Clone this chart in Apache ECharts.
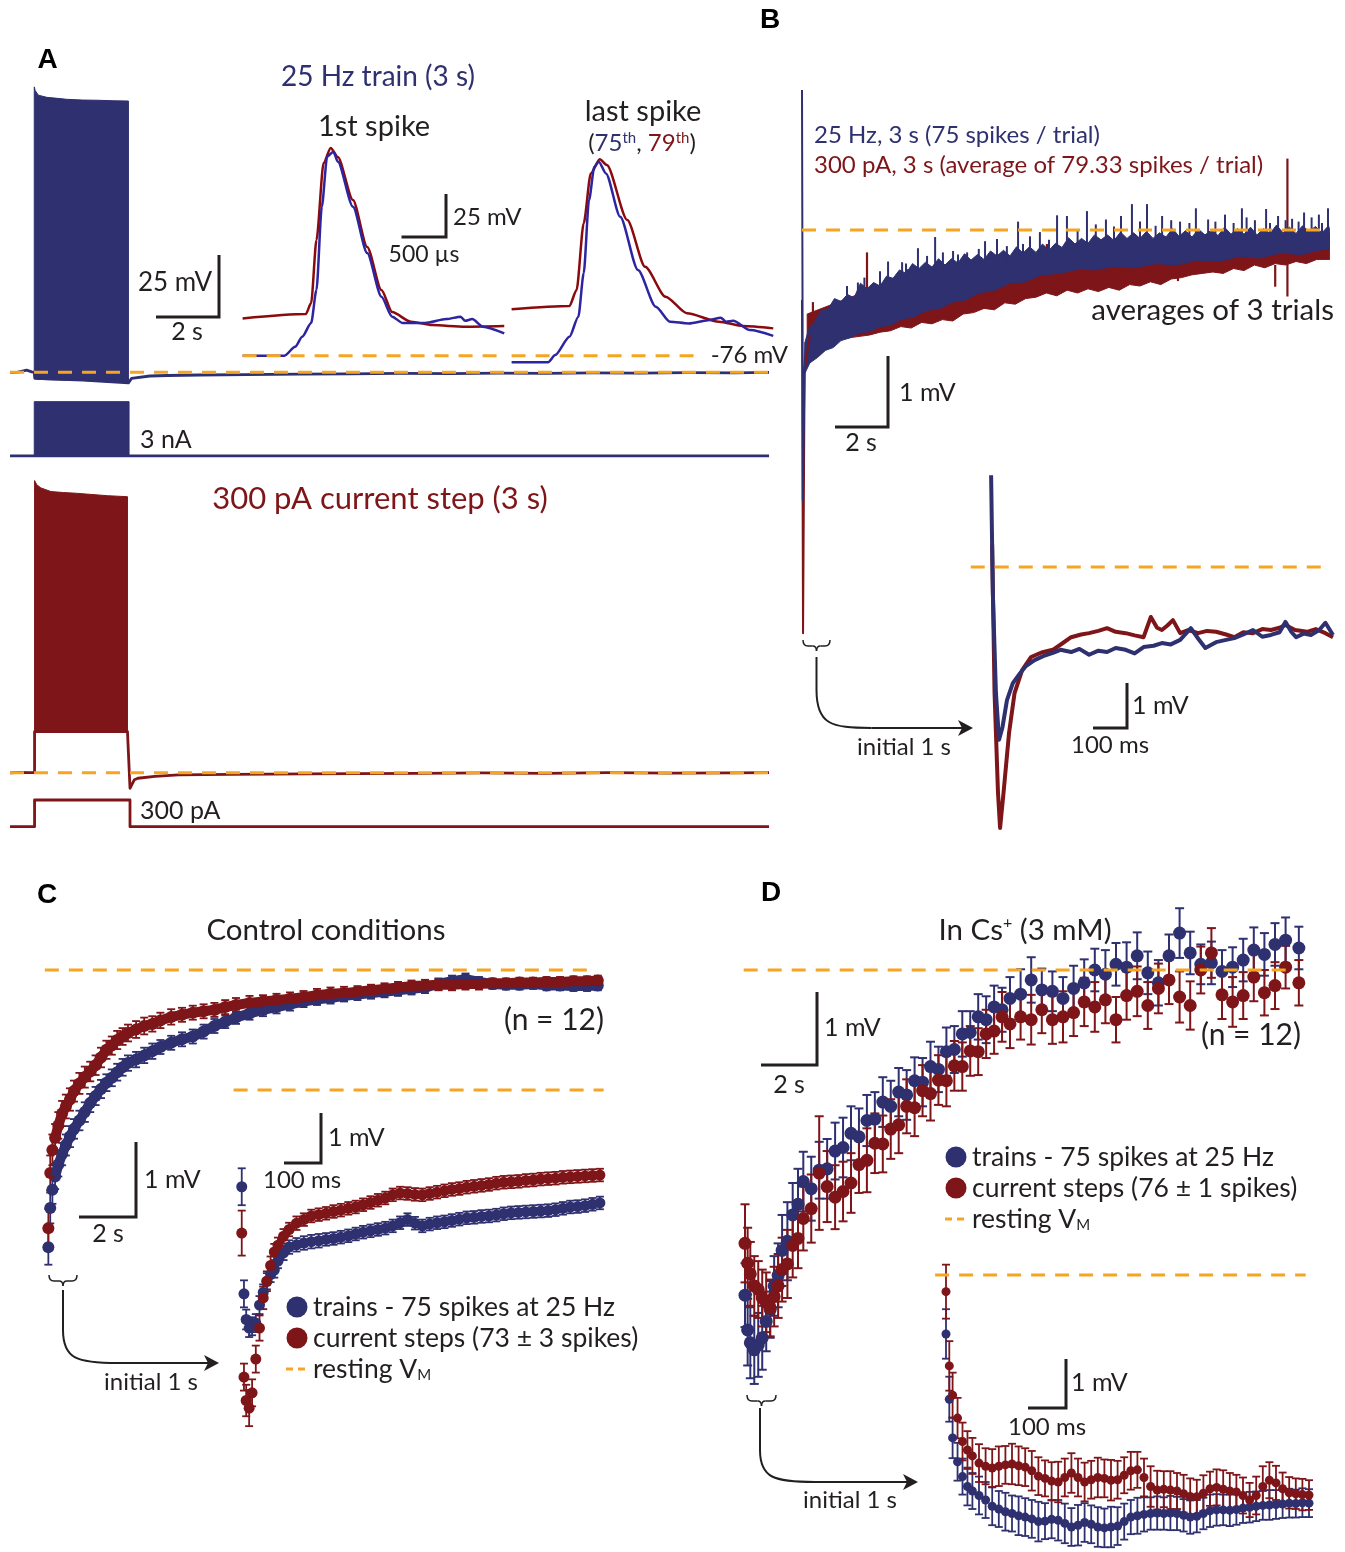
<!DOCTYPE html>
<html>
<head>
<meta charset="utf-8">
<script src="https://cdn.jsdelivr.net/npm/echarts/dist/echarts.min.js"></script>
<style>
  html, body { margin: 0; background: #fff; }
  #main { width: 1345px; height: 1552px; }
</style>
</head>
<body>
<div id="main"></div>
<script>
// ---------- Panel A : whole-cell traces (s, mV) ----------
const aBlueVmT = [0, 0.25, 0.53, 0.69, 0.77, 0.79, 2.32, 3.76, 3.81, 3.86, 4.44, 5.0, 6.03, 7.5, 9.21, 10.8, 12.38, 14, 15.5, 17, 18.5, 20, 21.5, 23, 24.1];
const aBlueVm = [-76.1, -75.9, -75.1, -75.8, -76.0, -78.5, -79.2, -80.3, -80.5, -78.5, -77.5, -77.3, -77.1, -76.9, -76.7, -76.6, -76.4, -76.5, -76.3, -76.4, -76.2, -76.3, -76.1, -76.2, -76.0];
const aBlueTrainT = [0.77, 0.8, 0.9, 1.17, 1.5, 1.8, 2.3, 2.8, 3.3, 3.76];
const aBlueTrainHi = [41.0, 39.5, 37.6, 36.7, 36.3, 35.9, 35.6, 35.5, 35.3, 35.2];
const aBlueTrainLo = [-78.5, -78.6, -78.8, -79.0, -79.1, -79.2, -79.3, -79.7, -80.0, -80.3];
const aBlueIT = [0, 3, 6, 9, 12, 15, 18, 21, 24.1];
const aBlueI = [0, 0, 0, 0, 0, 0, 0, 0, 0];
const aBlueIPulseT = [0.77, 3.78];
const aBlueIPulseHi = [3, 3];
const aBlueIPulseLo = [0, 0];

const aRedVmT = [0, 0.3, 0.6, 0.78, 0.78, 3.73, 3.81, 3.95, 4.06, 4.6, 5.35, 7.0, 9.4, 11, 13, 15, 17, 19, 21, 23, 24.1];
const aRedVm = [-76.1, -75.9, -76.0, -76.0, -59.2, -59.2, -82.4, -78.9, -78.3, -77.5, -76.9, -76.7, -76.5, -76.4, -76.3, -76.1, -76.3, -76.0, -76.2, -76.1, -76.0];
const aRedTrainT = [0.78, 0.85, 0.98, 1.3, 1.7, 2.11, 2.6, 3.1, 3.73];
const aRedTrainHi = [43.7, 42.0, 40.7, 39.2, 38.8, 38.5, 38.0, 37.5, 37.1];
const aRedTrainLo = [-59.2, -59.2, -59.3, -59.2, -59.1, -59.2, -59.3, -59.2, -59.2];
const aRedIT = [0, 0.78, 0.78, 3.81, 3.81, 24.1];
const aRedI = [0, 0, 300, 300, 0, 0];

// spike insets (ms, mV)
const a1RedT = [0, 0.71, 0.77, 0.83, 0.91, 0.99, 1.07, 1.24, 1.40, 1.56, 1.68, 1.89, 2.13, 2.50, 2.94];
const a1Red = [-54.3, -51.8, -45.4, -8.7, 36.0, 44.8, 39.5, 14.5, -12.8, -37.8, -50.6, -56.2, -58.2, -59.1, -58.7];
const a1BlueT = [0, 0.47, 0.59, 0.67, 0.77, 0.83, 0.89, 0.95, 1.02, 1.07, 1.24, 1.40, 1.56, 1.68, 1.80, 2.05, 2.29, 2.45, 2.50, 2.58, 2.70, 2.94];
const a1Blue = [-76, -76, -70.8, -65.0, -57.0, -37.8, 10.6, 39.7, 42.6, 36.8, 10.6, -16.3, -41.7, -53.3, -57.0, -57.0, -54.7, -53.3, -55.7, -54.7, -59.1, -63.0];
const a2RedT = [0, 0.65, 0.73, 0.81, 0.89, 0.99, 1.07, 1.30, 1.50, 1.73, 1.97, 2.33, 2.60, 2.94];
const a2Red = [-49.0, -47.1, -37.8, 1.0, 30.0, 38.2, 34.9, 2.9, -24.3, -41.7, -51.3, -56.2, -58.7, -60.1];
const a2BlueT = [0, 0.41, 0.49, 0.65, 0.75, 0.81, 0.87, 0.93, 0.98, 1.06, 1.22, 1.42, 1.62, 1.78, 1.99, 2.23, 2.35, 2.41, 2.49, 2.68, 2.94];
const a2Blue = [-79.8, -79.8, -75.6, -65.0, -53.3, -28.1, 14.5, 33.9, 36.8, 30.0, 4.8, -26.2, -47.5, -56.2, -57.2, -55.2, -53.9, -56.2, -55.7, -61.1, -64.5];
const restVm = -76;

// ---------- Panel B : averaged potential relative to rest (s, mV) ----------
const bSpikeBlueT = [0, 0.02, 0.03, 0.1, 0.13];
const bSpikeBlue = [2.0, -1.0, -3.86, -2.0, -1.6];
const bSpikeRedT = [0, 0.04, 0.1, 0.3];
const bSpikeRed = [-1.0, -5.76, -2.0, -1.5];
const bBlueTopT = [0.12, 0.25, 0.5, 0.75, 1.0, 1.25, 1.5, 1.75, 2.0, 2.25, 2.5, 2.75, 3.0, 3.25, 3.5, 3.75,
    4.0, 4.25, 4.5, 4.75, 5.0, 5.25, 5.5, 5.75, 6.0, 6.25, 6.5, 6.75, 7.0, 7.25, 7.5, 7.75,
    8.0, 8.25, 8.5, 8.75, 9.0, 9.25, 9.5, 9.75, 10.0, 10.25, 10.5, 10.75, 11.0, 11.25, 11.5, 11.75,
    12.0, 12.25, 12.5, 12.75, 13.0, 13.25, 13.5, 13.75, 14.0, 14.25, 14.5, 14.75, 15.0, 15.25, 15.5, 15.75,
    16.0, 16.25, 16.5, 16.75, 17.0, 17.25, 17.5, 17.75, 18.0, 18.25, 18.5, 18.75, 19.0, 19.25, 19.5, 19.75,
    20.0, 20.25, 20.3];
const bBlueTop = [-1.6, -1.42, -1.3, -1.14, -1.13, -0.98, -1.02, -0.92, -0.97, -0.76, -0.84, -0.75, -0.8, -0.66, -0.69, -0.57,
    -0.62, -0.48, -0.55, -0.46, -0.53, -0.41, -0.5, -0.41, -0.47, -0.34, -0.43, -0.35, -0.42, -0.3, -0.37, -0.29,
    -0.37, -0.24, -0.33, -0.24, -0.32, -0.2, -0.29, -0.19, -0.25, -0.11, -0.2, -0.12, -0.19, -0.07, -0.14, -0.07,
    -0.15, -0.03, -0.12, -0.04, -0.12, -0.02, -0.12, -0.04, -0.1, 0.02, -0.09, -0.01, -0.1, 0.01, -0.07, 0.0,
    -0.08, 0.04, -0.06, 0.02, -0.06, 0.04, -0.07, 0.02, -0.05, 0.07, -0.04, 0.04, -0.05, 0.06, -0.02, 0.05,
    -0.04, 0.06, 0.0];
const bBlueBotT = [0.12, 0.3, 0.6, 0.9, 1.2, 1.5, 1.85, 2.2, 2.6, 3.0, 3.4, 3.8, 4.3, 4.8, 5.3, 5.8, 6.3, 6.8, 7.4, 8.0, 8.6, 9.2, 9.9, 10.6, 11.3, 12.0, 12.8, 13.6, 14.4, 15.2, 16.0, 16.8, 17.6, 18.4, 19.2, 20.0, 20.3];
const bBlueBot = [-2.04, -1.9, -1.82, -1.72, -1.68, -1.58, -1.54, -1.47, -1.45, -1.38, -1.36, -1.28, -1.24, -1.15, -1.12, -1.03, -1.0, -0.9, -0.86, -0.76, -0.74, -0.64, -0.62, -0.56, -0.57, -0.52, -0.54, -0.48, -0.5, -0.43, -0.45, -0.38, -0.4, -0.33, -0.35, -0.28, -0.28];
const bBlueSpikeT = [1.73, 2.15, 3.0, 3.31, 3.85, 4.46, 4.81, 5.12, 5.42, 5.81, 6.35, 7.04, 7.5, 7.88, 8.31, 8.77, 9.15, 9.81, 10.19, 10.96, 11.69, 12.27, 12.69, 13.27, 13.85, 14.54, 15.15, 15.62, 16.27, 16.92, 17.42, 17.85, 18.31, 18.85, 19.31, 19.88, 20.23];
const bBlueSpikeTip = [-0.8, -0.75, -0.59, -0.45, -0.46, -0.26, -0.37, -0.1, -0.32, -0.3, -0.32, -0.16, -0.13, -0.23, 0.12, -0.09, -0.03, 0.21, 0.2, 0.27, 0.15, 0.2, 0.37, 0.37, 0.2, 0.12, 0.31, 0.15, 0.22, 0.31, 0.14, 0.3, 0.2, 0.16, 0.25, 0.22, 0.31];
const bBlueSpikeBase = [-1.1, -1.0, -0.9, -0.8, -0.75, -0.7, -0.65, -0.62, -0.6, -0.58, -0.55, -0.5, -0.48, -0.46, -0.44, -0.42, -0.4, -0.36, -0.34, -0.3, -0.28, -0.25, -0.24, -0.22, -0.2, -0.2, -0.18, -0.18, -0.16, -0.15, -0.15, -0.14, -0.13, -0.12, -0.12, -0.1, -0.1];
const bBlueSpike2T = [2.4, 4.0, 6.0, 6.8, 8.5, 9.5, 10.6, 11.3, 12.0, 13.0, 13.6, 14.2, 14.9, 15.9, 16.6, 17.1, 18.0, 18.6, 19.1, 19.6, 20.0];
const bBlueSpike2Tip = [-0.68, -0.48, -0.35, -0.27, -0.2, -0.14, 0.0, 0.08, 0.05, 0.12, 0.06, 0.14, 0.1, 0.12, 0.1, 0.18, 0.1, 0.14, 0.12, 0.18, 0.1];
const bBlueSpike2Base = [-0.9, -0.7, -0.55, -0.5, -0.42, -0.38, -0.3, -0.25, -0.22, -0.2, -0.2, -0.18, -0.18, -0.16, -0.15, -0.15, -0.14, -0.13, -0.12, -0.12, -0.1];
const bRedTopT = [0.2, 3, 6, 10, 14, 18, 20.3];
const bRedTop = [-1.2, -0.8, -0.55, -0.35, -0.2, -0.1, -0.05];
const bRedBotT = [0.2, 1.0, 2.0, 2.6, 3.0, 3.4, 3.8, 4.2, 4.6, 5.0, 5.4, 5.8, 6.2, 6.6, 7.0, 7.4, 7.8, 8.2, 8.6, 9.0, 9.4, 9.8, 10.2, 10.6, 11.0, 11.4, 11.8, 12.2, 12.6, 13.0, 13.4, 13.8, 14.2, 14.6, 15.0, 15.4, 15.8, 16.2, 16.6, 17.0, 17.4, 17.8, 18.2, 18.6, 19.0, 19.4, 19.8, 20.3];
const bRedBot = [-1.56, -1.58, -1.53, -1.5, -1.46, -1.44, -1.38, -1.4, -1.32, -1.34, -1.28, -1.3, -1.2, -1.18, -1.12, -1.14, -1.04, -1.06, -0.98, -0.96, -0.9, -0.94, -0.86, -0.9, -0.84, -0.88, -0.82, -0.86, -0.78, -0.8, -0.74, -0.78, -0.7, -0.68, -0.64, -0.62, -0.6, -0.62, -0.55, -0.58, -0.5, -0.54, -0.48, -0.5, -0.45, -0.48, -0.42, -0.42];
const bRedSpikeT = [0.42, 2.5, 4.04, 6.27, 9.42, 14.46, 18.2, 18.67];
const bRedSpikeTip = [-1.03, -0.32, -0.56, -0.35, -0.2, -0.73, -0.81, 1.02];
const bRedSpikeBase = [-1.4, -0.9, -0.8, -0.6, -0.45, -0.6, -0.5, -0.95];
const bInBlueT = [0.009, 0.014, 0.023, 0.032, 0.042, 0.055, 0.072, 0.093, 0.11, 0.135, 0.16, 0.188, 0.21, 0.241, 0.265, 0.293, 0.32, 0.345, 0.37, 0.399, 0.425, 0.451, 0.48, 0.504, 0.53, 0.557, 0.588, 0.61, 0.63, 0.661, 0.69, 0.714, 0.74, 0.768, 0.795, 0.82, 0.845, 0.862, 0.88, 0.893, 0.915, 0.936, 0.96, 0.978, 1.0];
const bInBlue = [2.04, -0.58, -2.8, -3.84, -3.56, -2.96, -2.58, -2.36, -2.2, -2.07, -1.98, -1.91, -1.84, -1.89, -1.82, -1.95, -1.86, -1.89, -1.8, -1.84, -1.92, -1.78, -1.75, -1.69, -1.72, -1.62, -1.36, -1.6, -1.8, -1.67, -1.62, -1.58, -1.5, -1.4, -1.55, -1.51, -1.45, -1.22, -1.45, -1.56, -1.48, -1.51, -1.4, -1.24, -1.51];
const bInRedT = [0.012, 0.019, 0.029, 0.035, 0.045, 0.061, 0.077, 0.099, 0.125, 0.155, 0.188, 0.215, 0.241, 0.27, 0.293, 0.32, 0.345, 0.37, 0.399, 0.425, 0.451, 0.472, 0.49, 0.504, 0.52, 0.536, 0.557, 0.58, 0.609, 0.635, 0.661, 0.69, 0.714, 0.74, 0.768, 0.795, 0.82, 0.845, 0.862, 0.89, 0.925, 0.95, 0.978, 1.0];
const bInRed = [0.5, -2.8, -5.02, -5.8, -5.02, -3.69, -2.8, -2.29, -2.0, -1.9, -1.84, -1.7, -1.56, -1.5, -1.47, -1.42, -1.36, -1.44, -1.47, -1.52, -1.56, -1.11, -1.35, -1.4, -1.3, -1.18, -1.47, -1.4, -1.47, -1.42, -1.44, -1.5, -1.56, -1.45, -1.47, -1.38, -1.4, -1.35, -1.29, -1.4, -1.44, -1.38, -1.47, -1.56];

// ---------- Panel C : control, mean +/- SEM (s, mV from rest) ----------
const cMainT = [0.05, 0.12, 0.2, 0.3, 0.42, 0.56, 0.7, 0.85, 1.0, 1.2, 1.4, 1.6, 1.8, 2.0, 2.2, 2.4, 2.6, 2.8, 3.0, 3.3, 3.6, 3.9, 4.2, 4.6, 5.0, 5.4, 5.8, 6.2, 6.6, 7.0, 7.5, 8.0, 8.5, 9.0, 9.5, 10.0, 10.5, 11.0, 11.5, 12.0, 12.5, 13.0, 13.5, 14.0, 14.5, 15.0, 15.5, 16.0, 16.5, 17.0, 17.5, 18.0, 18.5, 19.0, 19.5, 20.0, 20.4];
const cMainBlue = [-3.96, -3.4, -3.14, -2.95, -2.78, -2.63, -2.5, -2.38, -2.27, -2.15, -2.03, -1.9, -1.8, -1.7, -1.61, -1.54, -1.46, -1.39, -1.33, -1.28, -1.22, -1.16, -1.1, -1.04, -0.99, -0.95, -0.88, -0.8, -0.74, -0.68, -0.62, -0.57, -0.53, -0.49, -0.45, -0.42, -0.4, -0.37, -0.35, -0.33, -0.31, -0.29, -0.27, -0.25, -0.2, -0.16, -0.13, -0.17, -0.2, -0.21, -0.21, -0.2, -0.22, -0.22, -0.23, -0.23, -0.22];
const cMainBlueErr = [0.25, 0.22, 0.2, 0.18, 0.17, 0.16, 0.15, 0.15, 0.14, 0.14, 0.14, 0.13, 0.13, 0.13, 0.12, 0.12, 0.12, 0.12, 0.11, 0.11, 0.11, 0.11, 0.1, 0.1, 0.1, 0.1, 0.1, 0.1, 0.09, 0.09, 0.09, 0.09, 0.09, 0.09, 0.08, 0.08, 0.08, 0.08, 0.08, 0.08, 0.08, 0.08, 0.08, 0.08, 0.08, 0.08, 0.08, 0.07, 0.07, 0.07, 0.07, 0.07, 0.07, 0.07, 0.07, 0.07, 0.07];
const cMainRed = [-3.69, -2.9, -2.57, -2.4, -2.22, -2.05, -1.95, -1.85, -1.73, -1.62, -1.53, -1.45, -1.36, -1.25, -1.14, -1.08, -1.0, -0.95, -0.9, -0.85, -0.8, -0.77, -0.72, -0.67, -0.64, -0.61, -0.59, -0.57, -0.53, -0.5, -0.47, -0.45, -0.43, -0.41, -0.39, -0.36, -0.34, -0.33, -0.31, -0.29, -0.27, -0.25, -0.23, -0.22, -0.21, -0.21, -0.2, -0.2, -0.19, -0.19, -0.18, -0.18, -0.17, -0.17, -0.16, -0.16, -0.15];
const cMainRedErr = [0.28, 0.25, 0.22, 0.2, 0.19, 0.18, 0.17, 0.16, 0.15, 0.15, 0.15, 0.14, 0.14, 0.14, 0.13, 0.13, 0.13, 0.12, 0.12, 0.12, 0.12, 0.11, 0.11, 0.11, 0.1, 0.1, 0.1, 0.1, 0.1, 0.1, 0.1, 0.09, 0.09, 0.09, 0.09, 0.09, 0.09, 0.09, 0.08, 0.08, 0.08, 0.08, 0.08, 0.08, 0.08, 0.08, 0.08, 0.08, 0.07, 0.07, 0.07, 0.07, 0.07, 0.07, 0.07, 0.07, 0.07];
const cInT = [0.002, 0.008, 0.014, 0.022, 0.03, 0.04, 0.05, 0.06, 0.07, 0.08, 0.09, 0.1, 0.115, 0.13, 0.15, 0.17, 0.19, 0.21, 0.23, 0.25, 0.27, 0.29, 0.31, 0.33, 0.35, 0.37, 0.39, 0.41, 0.43, 0.45, 0.47, 0.49, 0.51, 0.53, 0.55, 0.57, 0.59, 0.61, 0.63, 0.65, 0.67, 0.69, 0.71, 0.73, 0.75, 0.77, 0.79, 0.81, 0.83, 0.85, 0.87, 0.89, 0.91, 0.93, 0.95, 0.97];
const cInBlue = [-2.15, -4.53, -5.1, -5.29, -5.25, -5.18, -4.78, -4.5, -4.25, -4.1, -4.0, -3.8, -3.62, -3.49, -3.44, -3.4, -3.37, -3.35, -3.32, -3.3, -3.27, -3.24, -3.2, -3.16, -3.13, -3.1, -3.07, -3.02, -2.95, -2.88, -2.96, -3.02, -2.98, -2.95, -2.93, -2.9, -2.87, -2.84, -2.83, -2.81, -2.8, -2.78, -2.75, -2.73, -2.72, -2.71, -2.7, -2.69, -2.68, -2.66, -2.63, -2.6, -2.59, -2.57, -2.54, -2.51];
const cInBlueErr = [0.41, 0.3, 0.22, 0.2, 0.2, 0.2, 0.2, 0.18, 0.18, 0.17, 0.17, 0.16, 0.16, 0.15, 0.15, 0.15, 0.15, 0.15, 0.14, 0.14, 0.14, 0.14, 0.14, 0.14, 0.14, 0.14, 0.14, 0.14, 0.14, 0.14, 0.14, 0.14, 0.14, 0.14, 0.14, 0.14, 0.14, 0.14, 0.14, 0.14, 0.14, 0.14, 0.14, 0.14, 0.14, 0.14, 0.14, 0.14, 0.14, 0.14, 0.14, 0.14, 0.14, 0.14, 0.14, 0.14];
const cInRed = [-3.18, -6.38, -6.9, -7.07, -6.73, -5.98, -5.29, -4.62, -4.25, -3.9, -3.6, -3.45, -3.25, -3.1, -2.96, -2.88, -2.8, -2.77, -2.74, -2.7, -2.67, -2.63, -2.6, -2.55, -2.5, -2.45, -2.4, -2.33, -2.29, -2.3, -2.32, -2.33, -2.3, -2.27, -2.24, -2.21, -2.19, -2.16, -2.14, -2.12, -2.1, -2.07, -2.05, -2.04, -2.03, -2.01, -2.0, -1.98, -1.97, -1.96, -1.94, -1.93, -1.92, -1.91, -1.9, -1.89];
const cInRedErr = [0.5, 0.3, 0.35, 0.4, 0.3, 0.3, 0.28, 0.25, 0.22, 0.2, 0.18, 0.17, 0.16, 0.15, 0.15, 0.14, 0.14, 0.14, 0.14, 0.14, 0.14, 0.14, 0.14, 0.14, 0.14, 0.14, 0.14, 0.14, 0.14, 0.14, 0.14, 0.14, 0.14, 0.14, 0.14, 0.14, 0.14, 0.14, 0.14, 0.14, 0.14, 0.14, 0.14, 0.14, 0.14, 0.14, 0.14, 0.14, 0.14, 0.14, 0.14, 0.14, 0.14, 0.14, 0.14, 0.14];

// ---------- Panel D : in Cs+, mean +/- SEM (s, mV from rest) ----------
const dMainT = [0, 0.1, 0.2, 0.35, 0.5, 0.65, 0.8, 0.95, 1.1, 1.25, 1.4, 1.6, 1.8, 2.0, 2.2, 2.5, 2.8, 3.1, 3.4, 3.7, 4.0, 4.3, 4.6, 4.9, 5.2, 5.5, 5.8, 6.1, 6.4, 6.7, 7.0, 7.3, 7.6, 7.9, 8.2, 8.5, 8.8, 9.1, 9.4, 9.7, 10.0, 10.4, 10.8, 11.2, 11.6, 12.0, 12.4, 12.8, 13.2, 13.6, 14.0, 14.4, 14.8, 15.2, 15.6, 16.0, 16.4, 16.8, 17.2, 17.6, 18.0, 18.4, 18.8, 19.2, 19.6, 20.0, 20.4, 20.9];
const dMainBlue = [-4.58, -5.07, -5.25, -5.35, -5.28, -5.18, -4.95, -4.78, -4.45, -4.3, -3.95, -3.82, -3.45, -3.3, -2.98, -3.08, -2.82, -2.8, -2.55, -2.5, -2.3, -2.35, -2.12, -2.1, -1.86, -1.92, -1.72, -1.76, -1.56, -1.58, -1.36, -1.4, -1.15, -1.12, -0.9, -0.88, -0.66, -0.7, -0.52, -0.56, -0.4, -0.34, -0.14, -0.28, -0.3, -0.4, -0.26, -0.18, 0.0, -0.06, 0.08, 0.04, 0.2, -0.04, -0.18, 0.2, 0.52, 0.24, 0.08, 0.1, -0.02, 0.04, 0.14, 0.28, 0.22, 0.36, 0.42, 0.31];
const dMainBlueErr = [0.45, 0.5, 0.5, 0.48, 0.45, 0.45, 0.42, 0.4, 0.42, 0.45, 0.5, 0.55, 0.45, 0.5, 0.42, 0.45, 0.4, 0.42, 0.4, 0.42, 0.38, 0.4, 0.36, 0.38, 0.35, 0.36, 0.34, 0.35, 0.33, 0.34, 0.35, 0.32, 0.34, 0.33, 0.32, 0.3, 0.32, 0.33, 0.3, 0.31, 0.3, 0.35, 0.32, 0.3, 0.28, 0.3, 0.32, 0.33, 0.3, 0.34, 0.3, 0.35, 0.33, 0.3, 0.32, 0.3, 0.35, 0.3, 0.28, 0.3, 0.3, 0.28, 0.3, 0.32, 0.3, 0.3, 0.32, 0.3];
const dMainRed = [-3.85, -4.13, -4.28, -4.45, -4.5, -4.62, -4.68, -4.76, -4.6, -4.45, -4.22, -4.14, -3.88, -3.78, -3.5, -3.36, -2.86, -3.05, -3.2, -3.12, -3.0, -2.74, -2.68, -2.44, -2.45, -2.24, -2.18, -1.92, -1.94, -1.7, -1.74, -1.55, -1.56, -1.35, -1.36, -1.14, -1.15, -0.9, -0.86, -0.66, -0.76, -0.66, -0.7, -0.56, -0.7, -0.66, -0.6, -0.45, -0.52, -0.42, -0.7, -0.36, -0.3, -0.5, -0.26, -0.14, -0.38, -0.5, 0.0, 0.24, -0.35, -0.45, -0.36, -0.1, -0.32, -0.22, 0.04, -0.18];
const dMainRedErr = [0.55, 0.5, 0.45, 0.42, 0.4, 0.4, 0.42, 0.4, 0.42, 0.45, 0.45, 0.48, 0.45, 0.42, 0.45, 0.48, 0.8, 0.5, 0.45, 0.42, 0.42, 0.4, 0.45, 0.42, 0.4, 0.42, 0.4, 0.38, 0.4, 0.36, 0.38, 0.35, 0.36, 0.35, 0.34, 0.35, 0.33, 0.34, 0.32, 0.35, 0.34, 0.32, 0.35, 0.33, 0.34, 0.36, 0.33, 0.34, 0.35, 0.33, 0.32, 0.34, 0.35, 0.33, 0.35, 0.34, 0.36, 0.34, 0.33, 0.35, 0.34, 0.35, 0.33, 0.34, 0.32, 0.33, 0.3, 0.32];
const dInT = [0, 0.01, 0.02, 0.035, 0.05, 0.065, 0.08, 0.1, 0.12, 0.14, 0.16, 0.18, 0.2, 0.22, 0.24, 0.26, 0.28, 0.3, 0.32, 0.34, 0.36, 0.38, 0.4, 0.42, 0.44, 0.46, 0.48, 0.5, 0.52, 0.54, 0.56, 0.58, 0.6, 0.62, 0.64, 0.66, 0.68, 0.7, 0.72, 0.74, 0.76, 0.78, 0.8, 0.82, 0.84, 0.86, 0.88, 0.9, 0.92, 0.94, 0.96, 0.98, 1.0, 1.02, 1.04, 1.06, 1.08, 1.1];
const dInBlue = [-1.31, -2.76, -3.62, -4.15, -4.48, -4.7, -4.8, -4.9, -5.0, -5.14, -5.2, -5.26, -5.3, -5.35, -5.38, -5.42, -5.48, -5.47, -5.43, -5.45, -5.52, -5.6, -5.56, -5.5, -5.54, -5.6, -5.62, -5.6, -5.58, -5.48, -5.38, -5.35, -5.32, -5.3, -5.29, -5.3, -5.29, -5.3, -5.34, -5.38, -5.36, -5.3, -5.24, -5.22, -5.22, -5.23, -5.21, -5.18, -5.16, -5.14, -5.12, -5.11, -5.1, -5.09, -5.07, -5.08, -5.06, -5.07];
const dInBlueErr = [0.55, 0.5, 0.45, 0.42, 0.4, 0.42, 0.4, 0.42, 0.4, 0.42, 0.4, 0.42, 0.4, 0.43, 0.42, 0.42, 0.44, 0.4, 0.42, 0.45, 0.44, 0.42, 0.45, 0.43, 0.42, 0.44, 0.43, 0.45, 0.42, 0.4, 0.38, 0.4, 0.38, 0.36, 0.37, 0.36, 0.38, 0.37, 0.36, 0.37, 0.36, 0.35, 0.36, 0.35, 0.34, 0.35, 0.34, 0.33, 0.34, 0.33, 0.32, 0.33, 0.32, 0.31, 0.32, 0.31, 0.32, 0.31];
const dInRed = [-0.37, -2.02, -2.67, -3.18, -3.7, -3.89, -4.02, -4.18, -4.25, -4.29, -4.25, -4.22, -4.2, -4.24, -4.27, -4.35, -4.47, -4.52, -4.58, -4.6, -4.5, -4.4, -4.5, -4.6, -4.55, -4.5, -4.52, -4.56, -4.55, -4.45, -4.35, -4.33, -4.5, -4.7, -4.78, -4.76, -4.78, -4.8, -4.86, -4.92, -4.93, -4.85, -4.75, -4.72, -4.76, -4.8, -4.82, -4.9, -5.0, -4.9, -4.7, -4.56, -4.62, -4.75, -4.84, -4.86, -4.88, -4.89];
const dInRedErr = [0.6, 0.55, 0.5, 0.45, 0.42, 0.42, 0.4, 0.42, 0.4, 0.42, 0.44, 0.42, 0.45, 0.43, 0.42, 0.44, 0.42, 0.4, 0.42, 0.45, 0.42, 0.44, 0.42, 0.43, 0.42, 0.44, 0.42, 0.45, 0.42, 0.4, 0.42, 0.4, 0.42, 0.45, 0.43, 0.4, 0.42, 0.4, 0.42, 0.4, 0.38, 0.4, 0.38, 0.4, 0.42, 0.4, 0.38, 0.4, 0.38, 0.42, 0.45, 0.4, 0.38, 0.36, 0.35, 0.34, 0.35, 0.33];

// ---------- styling ----------
const BLUE = '#2e3070', RED = '#7e1519', ABLUE = '#2c24a0', ARED = '#8b0a0e';
const ORANGE = '#f6a523', INK = '#231f20';
const FONT = "Lato, 'Open Sans', sans-serif";
const DASH = [14, 10];

let chartDom = document.getElementById('main');
let myChart = echarts.init(chartDom);
let grids = [], xAxes = [], yAxes = [], series = [];

function addPanel(left, top, width, height, xMin, xMax, yMin, yMax) {
    grids.push({ left: left, top: top, width: width, height: height, show: false });
    let i = grids.length - 1;
    xAxes.push({ type: 'value', gridIndex: i, min: xMin, max: xMax, show: false });
    yAxes.push({ type: 'value', gridIndex: i, min: yMin, max: yMax, show: false });
    return i;
}
function zip(t, v) { return t.map((x, i) => [x, v[i]]); }
function trace(g, t, v, color, width, smooth) {
    series.push({ type: 'line', xAxisIndex: g, yAxisIndex: g, data: zip(t, v), symbol: 'none',
        smooth: smooth || false, smoothMonotone: 'x',
        lineStyle: { color: color, width: width, join: 'round' }, silent: true });
}
function restLine(g, y, x0, x1) {
    series.push({ type: 'line', xAxisIndex: g, yAxisIndex: g, data: [[x0, y], [x1, y]], symbol: 'none',
        lineStyle: { color: ORANGE, width: 3, type: DASH }, silent: true, z: 5 });
}
// filled envelope between an upper and a lower edge (dense spike trains, noisy averages)
function band(g, tTop, top, tBot, bot, color) {
    series.push({ type: 'custom', xAxisIndex: g, yAxisIndex: g, data: [[tTop[0], top[0]]], silent: true, clip: true,
        renderItem: function (params, api) {
            let pts = tTop.map((x, i) => api.coord([x, top[i]]));
            for (let i = tBot.length - 1; i >= 0; i--) pts.push(api.coord([tBot[i], bot[i]]));
            return { type: 'polygon', shape: { points: pts }, style: { fill: color, stroke: color, lineWidth: 1 } };
        } });
}
// thin noise spikes sticking out of the averaged traces
function spikes(g, t, tip, base, color, w) {
    series.push({ type: 'custom', xAxisIndex: g, yAxisIndex: g, silent: true,
        data: t.map((x, i) => [x, tip[i], base[i]]), encode: { x: 0, y: 1 },
        renderItem: function (params, api) {
            let a = api.coord([api.value(0), api.value(1)]), b = api.coord([api.value(0), api.value(2)]);
            return { type: 'line', shape: { x1: a[0], y1: a[1], x2: b[0], y2: b[1] }, style: { stroke: color, lineWidth: w } };
        } });
}
function errBars(g, t, v, e, color, w, cap) {
    series.push({ type: 'custom', xAxisIndex: g, yAxisIndex: g, silent: true,
        data: t.map((x, i) => [x, v[i], e[i]]), encode: { x: 0, y: 1 },
        renderItem: function (params, api) {
            let x = api.value(0), y = api.value(1), e = api.value(2);
            let a = api.coord([x, y + e]), b = api.coord([x, y - e]);
            let st = { stroke: color, lineWidth: w };
            return { type: 'group', children: [
                { type: 'line', shape: { x1: a[0], y1: a[1], x2: b[0], y2: b[1] }, style: st },
                { type: 'line', shape: { x1: a[0] - cap, y1: a[1], x2: a[0] + cap, y2: a[1] }, style: st },
                { type: 'line', shape: { x1: b[0] - cap, y1: b[1], x2: b[0] + cap, y2: b[1] }, style: st }
            ] };
        } });
}
function dots(g, t, v, color, size) {
    series.push({ type: 'scatter', xAxisIndex: g, yAxisIndex: g, data: zip(t, v), symbol: 'circle',
        symbolSize: size, itemStyle: { color: color, opacity: 1 }, silent: true });
}

// ---------- A ----------
let gA = addPanel(10, 77.1, 760, 329.4, 0, 24.13, -90, 45);
let gAI = addPanel(10, 392.6, 760, 72.4, 0, 24.13, -0.5, 3.5);
let gA1 = addPanel(242.6, 139, 262, 240.8, 0, 2.944, -90, 50);
let gA2 = addPanel(511.6, 139, 262, 240.8, 0, 2.944, -90, 50);
let gAR = addPanel(10, 470.1, 760, 336.7, 0, 24.13, -90, 48);
let gARI = addPanel(10, 795.55, 760, 35.6, 0, 24.13, -50, 350);

trace(gA, aBlueVmT, aBlueVm, BLUE, 2.8);
band(gA, aBlueTrainT, aBlueTrainHi, aBlueTrainT, aBlueTrainLo, BLUE);
restLine(gA, restVm, 0, 24.13);
trace(gAI, aBlueIT, aBlueI, BLUE, 2.8);
band(gAI, aBlueIPulseT, aBlueIPulseHi, aBlueIPulseT, aBlueIPulseLo, BLUE);

trace(gA1, a1RedT, a1Red, ARED, 2.5, 0.25);
trace(gA1, a1BlueT, a1Blue, ABLUE, 2.5, 0.25);
restLine(gA1, restVm, 0, 2.944);
trace(gA2, a2RedT, a2Red, ARED, 2.5, 0.25);
trace(gA2, a2BlueT, a2Blue, ABLUE, 2.5, 0.25);
restLine(gA2, restVm, 0, 2.15);

trace(gAR, aRedVmT, aRedVm, RED, 2.8);
band(gAR, aRedTrainT, aRedTrainHi, aRedTrainT, aRedTrainLo, RED);
restLine(gAR, restVm, 0, 24.13);
trace(gARI, aRedIT, aRedI, RED, 2.8);

// ---------- B ----------
let gB = addPanel(802, 76, 527.8, 574, 0, 20.3, -6, 2.2);
let gBI = addPanel(967.3, 463.5, 365.7, 382.5, -0.06, 1.0, -6.2, 2.3);
trace(gB, bSpikeRedT, bSpikeRed, RED, 2);
band(gB, bRedTopT, bRedTop, bRedBotT, bRedBot, RED);
spikes(gB, bRedSpikeT, bRedSpikeTip, bRedSpikeBase, RED, 2.2);
trace(gB, bSpikeBlueT, bSpikeBlue, BLUE, 2);
band(gB, bBlueTopT, bBlueTop, bBlueBotT, bBlueBot, BLUE);
spikes(gB, bBlueSpikeT, bBlueSpikeTip, bBlueSpikeBase, BLUE, 2);
spikes(gB, bBlueSpike2T, bBlueSpike2Tip, bBlueSpike2Base, BLUE, 2);
restLine(gB, 0, 0, 20.3);
trace(gBI, bInRedT, bInRed, RED, 4);
trace(gBI, bInBlueT, bInBlue, BLUE, 4);
restLine(gBI, 0, -0.05, 0.98);

// ---------- C ----------
let gC = addPanel(44.3, 935, 558.9, 350, -0.1, 20.6, -4.5, 0.5);
let gCI = addPanel(229.9, 1067.5, 381.1, 364.5, -0.03, 1.0, -7.6, 0.5);
errBars(gC, cMainT, cMainBlue, cMainBlueErr, BLUE, 1.8, 4);
trace(gC, cMainT.slice(3), cMainBlue.slice(3), BLUE, 10);
dots(gC, cMainT, cMainBlue, BLUE, 12);
errBars(gC, cMainT, cMainRed, cMainRedErr, RED, 1.8, 4);
trace(gC, cMainT.slice(3), cMainRed.slice(3), RED, 10);
dots(gC, cMainT, cMainRed, RED, 12);
restLine(gC, 0, -0.08, 20.2);
errBars(gCI, cInT, cInBlue, cInBlueErr, BLUE, 1.8, 4);
trace(gCI, cInT.slice(11), cInBlue.slice(11), BLUE, 7);
dots(gCI, cInT, cInBlue, BLUE, 11);
errBars(gCI, cInT, cInRed, cInRedErr, RED, 1.8, 4);
trace(gCI, cInT.slice(11), cInRed.slice(11), RED, 7);
dots(gCI, cInT, cInRed, RED, 11);
restLine(gCI, 0, -0.02, 0.98);

// ---------- D ----------
let gD = addPanel(742.35, 884.8, 564.45, 511.2, -0.1, 21.2, -6, 1.2);
let gDI = addPanel(932.8, 1248, 382.8, 297, -0.04, 1.12, -6, 0.6);
errBars(gD, dMainT, dMainBlue, dMainBlueErr, BLUE, 2, 4.5);
dots(gD, dMainT, dMainBlue, BLUE, 13);
errBars(gD, dMainT, dMainRed, dMainRedErr, RED, 2, 4.5);
dots(gD, dMainT, dMainRed, RED, 13);
restLine(gD, 0, -0.05, 20.64);
errBars(gDI, dInT, dInBlue, dInBlueErr, BLUE, 1.8, 4);
dots(gDI, dInT, dInBlue, BLUE, 9);
errBars(gDI, dInT, dInRed, dInRedErr, RED, 1.8, 4);
dots(gDI, dInT, dInRed, RED, 9);
restLine(gDI, 0, -0.033, 1.09);

// ---------- annotations ----------
function label(x, y, text, size, color, align) {
    return { type: 'text', x: x, y: y, silent: true, z: 10,
        style: { text: text, font: size + 'px ' + FONT, fill: color || INK,
            align: align || 'left', verticalAlign: 'middle' } };
}
function letter(x, y, text) {
    return { type: 'text', x: x, y: y, silent: true, z: 10,
        style: { text: text, font: 'bold 28px "Liberation Sans", Arial, sans-serif', fill: '#000', align: 'center', verticalAlign: 'middle' } };
}
function bar(points) {
    return { type: 'polyline', silent: true, z: 10, shape: { points: points }, style: { stroke: INK, lineWidth: 3, fill: null } };
}
function brace(x0, x1, y) {
    let m = (x0 + x1) / 2, st = { stroke: INK, lineWidth: 1.5, fill: null };
    return [
        { type: 'bezierCurve', silent: true, shape: { x1: x0, y1: y, cpx1: x0, cpy1: y + 6, x2: x0 + 5, y2: y + 6 }, style: st },
        { type: 'line', silent: true, shape: { x1: x0 + 5, y1: y + 6, x2: m - 4, y2: y + 6 }, style: st },
        { type: 'bezierCurve', silent: true, shape: { x1: m - 4, y1: y + 6, cpx1: m, cpy1: y + 6, x2: m, y2: y + 11 }, style: st },
        { type: 'bezierCurve', silent: true, shape: { x1: m, y1: y + 11, cpx1: m, cpy1: y + 6, x2: m + 4, y2: y + 6 }, style: st },
        { type: 'line', silent: true, shape: { x1: m + 4, y1: y + 6, x2: x1 - 5, y2: y + 6 }, style: st },
        { type: 'bezierCurve', silent: true, shape: { x1: x1 - 5, y1: y + 6, cpx1: x1, cpy1: y + 6, x2: x1, y2: y }, style: st }
    ];
}
function arrow(x0, y0, yTurn, x1, y1) {
    let st = { stroke: INK, lineWidth: 2, fill: null };
    return [
        { type: 'line', silent: true, shape: { x1: x0, y1: y0, x2: x0, y2: yTurn }, style: st },
        { type: 'bezierCurve', silent: true, shape: { x1: x0, y1: yTurn, cpx1: x0, cpy1: y1 - 4, cpx2: x0 + 14, cpy2: y1, x2: x0 + 55, y2: y1 }, style: st },
        { type: 'line', silent: true, shape: { x1: x0 + 55, y1: y1, x2: x1 - 10, y2: y1 }, style: st },
        { type: 'polygon', silent: true, shape: { points: [[x1, y1], [x1 - 15, y1 - 8], [x1 - 11, y1], [x1 - 15, y1 + 8]] }, style: { fill: INK } }
    ];
}
function richLabel(x, y, text, size, rich, align) {
    return { type: 'text', x: x, y: y, silent: true, z: 10,
        style: { text: text, font: size + 'px ' + FONT, fill: INK, align: align || 'left', verticalAlign: 'middle', rich: rich } };
}
function legendBlock(x, y, blueText, redText) {
    return [
        { type: 'circle', silent: true, shape: { cx: x, cy: y, r: 10.5 }, style: { fill: BLUE } },
        label(x + 16, y, blueText, 26.5),
        { type: 'circle', silent: true, shape: { cx: x, cy: y + 31, r: 10.5 }, style: { fill: RED } },
        label(x + 16, y + 31, redText, 26.5),
        { type: 'line', silent: true, shape: { x1: x - 11, y1: y + 62, x2: x - 4, y2: y + 62 }, style: { stroke: ORANGE, lineWidth: 3 } },
        { type: 'line', silent: true, shape: { x1: x + 1, y1: y + 62, x2: x + 8, y2: y + 62 }, style: { stroke: ORANGE, lineWidth: 3 } },
        richLabel(x + 16, y + 62, '{a|resting V}{s|M}', 26.5, {
            a: { fontSize: 26.5, fontFamily: FONT, fill: INK },
            s: { fontSize: 15, fontFamily: FONT, fill: INK, verticalAlign: 'bottom', padding: [12, 0, 0, 0] } })
    ];
}

let ann = [
    letter(47.5, 60, 'A'), letter(770, 20, 'B'), letter(47, 895, 'C'), letter(771, 893, 'D'),
    label(378, 77, '25 Hz train (3 s)', 28, BLUE, 'center'),
    label(374, 127, '1st spike', 29, INK, 'center'),
    label(643, 112, 'last spike', 29, INK, 'center'),
    richLabel(642, 143, '{k|(}{b|75}{bs|th}{k|, }{r|79}{rs|th}{k|)}', 24, {
        k: { fontSize: 24, fontFamily: FONT, fill: INK },
        b: { fontSize: 24, fontFamily: FONT, fill: BLUE },
        r: { fontSize: 24, fontFamily: FONT, fill: RED },
        bs: { fontSize: 15, fontFamily: FONT, fill: BLUE, verticalAlign: 'top' },
        rs: { fontSize: 15, fontFamily: FONT, fill: RED, verticalAlign: 'top' } }, 'center'),
    bar([[156, 317], [219, 317], [219, 255]]),
    label(212, 283, '25 mV', 26, INK, 'right'),
    label(187, 332, '2 s', 25, INK, 'center'),
    bar([[401.5, 237], [446, 237], [446, 194]]),
    label(453, 217, '25 mV', 24),
    label(424, 255, '500 µs', 23, INK, 'center'),
    label(788, 355, '-76 mV', 24, INK, 'right'),
    label(140, 440, '3 nA', 25),
    label(380, 499, '300 pA current step (3 s)', 31, RED, 'center'),
    label(140, 811, '300 pA', 25),

    label(814, 135, '25 Hz, 3 s (75 spikes / trial)', 24, BLUE),
    label(814, 165, '300 pA, 3 s (average of 79.33 spikes / trial)', 24, RED),
    label(1334, 310, 'averages of 3 trials', 29.5, INK, 'right'),
    bar([[835, 427], [888, 427], [888, 356]]),
    label(899, 393, '1 mV', 25),
    label(861, 443, '2 s', 25, INK, 'center'),
    bar([[1093, 728], [1127, 728], [1127, 683]]),
    label(1132, 706, '1 mV', 25),
    label(1110, 745, '100 ms', 24, INK, 'center'),
    label(904, 747, 'initial 1 s', 24, INK, 'center'),

    label(326, 930, 'Control conditions', 29.5, INK, 'center'),
    label(604, 1020, '(n = 12)', 30, INK, 'right'),
    bar([[79, 1217], [136, 1217], [136, 1142]]),
    label(144, 1180, '1 mV', 25),
    label(108, 1234, '2 s', 25, INK, 'center'),
    bar([[284, 1163], [321, 1163], [321, 1113]]),
    label(328, 1138, '1 mV', 25),
    label(302, 1180, '100 ms', 24, INK, 'center'),
    label(151, 1382, 'initial 1 s', 24, INK, 'center'),

    richLabel(1025, 930, '{a|In Cs}{s|+}{a| (3 mM)}', 29.5, {
        a: { fontSize: 29.5, fontFamily: FONT, fill: INK },
        s: { fontSize: 16, fontFamily: FONT, fill: INK, verticalAlign: 'top' } }, 'center'),
    label(1301, 1035, '(n = 12)', 30, INK, 'right'),
    bar([[761, 1065], [817, 1065], [817, 992]]),
    label(824, 1028, '1 mV', 25),
    label(789, 1085, '2 s', 25, INK, 'center'),
    bar([[1028, 1408], [1066, 1408], [1066, 1359]]),
    label(1071, 1383, '1 mV', 25),
    label(1047, 1427, '100 ms', 24, INK, 'center'),
    label(850, 1500, 'initial 1 s', 24, INK, 'center')
];
ann = ann.concat(brace(803, 830, 640), arrow(816.5, 657, 690, 973, 728));
ann = ann.concat(brace(49, 77, 1275), arrow(63, 1290, 1330, 219, 1363));
ann = ann.concat(brace(747, 776, 1395), arrow(760, 1408, 1450, 918, 1482));
ann = ann.concat(legendBlock(297, 1307, 'trains - 75 spikes at 25 Hz', 'current steps (73 ± 3 spikes)'));
ann = ann.concat(legendBlock(956, 1157, 'trains - 75 spikes at 25 Hz', 'current steps (76 ± 1 spikes)'));

let option = {
    animation: false,
    backgroundColor: '#ffffff',
    grid: grids,
    xAxis: xAxes,
    yAxis: yAxes,
    series: series,
    graphic: { elements: ann }
};

option && myChart.setOption(option);
</script>
</body>
</html>
